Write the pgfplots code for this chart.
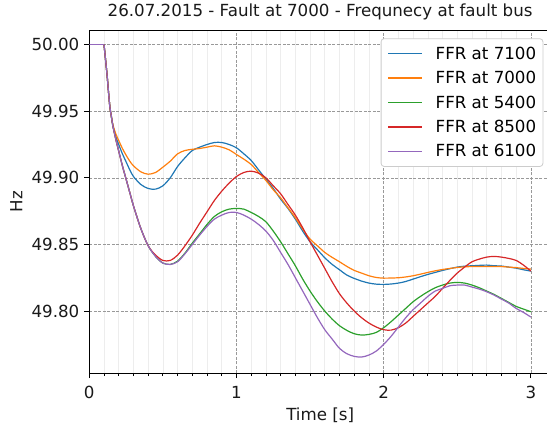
\documentclass[border=0pt]{standalone}
\usepackage{fontspec}
\setmainfont{DejaVu Sans}
\usepackage{pgfplots}
\usepackage{pgfplotstable}
\pgfplotsset{compat=1.18}

\definecolor{cBlue}{HTML}{1F77B4}
\definecolor{cOrange}{HTML}{FF7F0E}
\definecolor{cGreen}{HTML}{2CA02C}
\definecolor{cRed}{HTML}{D62728}
\definecolor{cPurple}{HTML}{9467BD}
\newcommand\mpl{\fontsize{16.67bp}{20bp}\selectfont}

% frequency at the fault bus [Hz] for each FFR location
\pgfplotstableread{
t     f7100   f7000   f5400   f8500   f6100
0.00  50.000  50.000  50.000  50.000  50.000
0.10  50.000  50.000  50.000  50.000  50.000
0.12  49.978  49.978  49.978  49.978  49.978
0.13  49.965  49.965  49.965  49.965  49.965
0.14  49.953  49.953  49.953  49.953  49.953
0.15  49.946  49.946  49.946  49.946  49.946
0.16  49.939  49.940  49.939  49.939  49.939
0.18  49.931  49.933  49.929  49.929  49.929
0.20  49.925  49.928  49.920  49.920  49.920
0.225 49.918  49.922  49.909  49.909  49.909
0.25  49.912  49.917  49.899  49.899  49.899
0.275 49.906  49.9125 49.889  49.889  49.889
0.30  49.901  49.909  49.879  49.879  49.879
0.35  49.895  49.9045 49.862  49.862  49.862
0.40  49.892  49.9027 49.849  49.849  49.849
0.45  49.8915 49.904  49.841  49.842  49.841
0.50  49.894  49.908  49.836  49.838  49.836
0.55  49.900  49.9125 49.835  49.838  49.835
0.60  49.9085 49.918  49.8375 49.842  49.837
0.65  49.915  49.9205 49.8435 49.849  49.843
0.70  49.9205 49.9214 49.851  49.857  49.850
0.75  49.923  49.922  49.858  49.866  49.857
0.80  49.925  49.923  49.865  49.8745 49.8635
0.85  49.9265 49.924  49.871  49.883  49.869
0.90  49.9265 49.923  49.8745 49.890  49.872
0.95  49.925  49.921  49.8765 49.896  49.874
1.00  49.9225 49.9175 49.877  49.901  49.874
1.05  49.918  49.914  49.8765 49.904  49.872
1.10  49.913  49.910  49.874  49.905  49.869
1.15  49.906  49.904  49.871  49.9035 49.865
1.20  49.899  49.898  49.867  49.900  49.860
1.25  49.892  49.891  49.860  49.894  49.853
1.30  49.884  49.885  49.852  49.888  49.844
1.35  49.877  49.8775 49.843  49.880  49.835
1.40  49.869  49.870  49.834  49.872  49.825
1.45  49.860  49.8615 49.824  49.8625 49.815
1.50  49.852  49.854  49.815  49.852  49.805
1.55  49.846  49.849  49.807  49.842  49.795
1.60  49.840  49.844  49.800  49.832  49.786
1.65  49.835  49.8403 49.794  49.822  49.779
1.70  49.831  49.837  49.789  49.813  49.772
1.75  49.827  49.8335 49.7855 49.806  49.768
1.80  49.8245 49.8305 49.783  49.800  49.766
1.85  49.8225 49.8285 49.782  49.795  49.7655
1.90  49.821  49.8265 49.7825 49.791  49.767
1.95  49.8202 49.8252 49.784  49.788  49.770
2.00  49.820  49.8247 49.7875 49.786  49.775
2.05  49.8203 49.8248 49.792  49.7857 49.781
2.10  49.821  49.825  49.797  49.7875 49.788
2.15  49.8222 49.8256 49.802  49.791  49.795
2.20  49.824  49.8265 49.807  49.796  49.801
2.25  49.8258 49.8277 49.811  49.801  49.806
2.30  49.8275 49.829  49.8145 49.806  49.811
2.35  49.829  49.8302 49.8175 49.811  49.815
2.40  49.8305 49.8312 49.8195 49.817  49.817
2.45  49.8318 49.832  49.821  49.823  49.819
2.50  49.833  49.8327 49.8215 49.8285 49.8195
2.55  49.8337 49.8332 49.821  49.833  49.8195
2.60  49.834  49.8334 49.8195 49.837  49.818
2.65  49.8343 49.8335 49.8175 49.839  49.8165
2.70  49.8345 49.8335 49.815  49.8405 49.8145
2.75  49.834  49.8335 49.8125 49.841  49.812
2.80  49.8338 49.8334 49.8095 49.8405 49.809
2.85  49.833  49.833  49.8065 49.8395 49.806
2.90  49.8322 49.8326 49.8035 49.838  49.802
2.95  49.831  49.832  49.8015 49.8345 49.799
3.00  49.830  49.8315 49.7995 49.830  49.7955
}\freqdata

\begin{document}
\begin{tikzpicture}
\useasboundingbox (0,0) rectangle (547bp,427bp);
\begin{axis}[
  at={(89.3bp,53.7bp)}, anchor=south west,
  scale only axis, width=461.7bp, height=343bp,
  xmin=0, xmax=3.137, ymin=49.7533, ymax=50.0107,
  xtick={0,1,2,3}, ytick={49.80,49.85,49.90,49.95,50.00},
  minor x tick num=9,
  xtick pos=lower, ytick pos=left,
  tick align=outside,
  major tick length=4.9bp, minor tick length=2.8bp,
  every tick/.style={black, line width=1.1bp},
  every minor tick/.style={black, line width=0.8bp},
  axis line style={black, line width=1.1bp},
  grid=major, xminorgrids=true,
  major grid style={black!40, line width=0.6bp, dash pattern=on 3bp off 1.5bp},
  minor grid style={black!7, line width=0.6bp},
  /pgf/number format/assume math mode=true,
  yticklabel style={/pgf/number format/fixed, /pgf/number format/fixed zerofill, /pgf/number format/precision=2, inner xsep=4.9bp},
  ticklabel style={font=\mpl, text=black!90},
  xticklabel style={inner ysep=8bp},
  title={26.07.2015 - Fault at 7000 - Frequnecy at fault bus},
  title style={at={(axis description cs:0.5,1.0242)}, anchor=base, inner sep=0pt, font=\mpl, text=black!90},
  xlabel={Time [s]},
  xlabel style={at={(axis description cs:0.5,-0.1012)}, anchor=north, inner sep=0pt, font=\mpl, text=black!90},
  ylabel={Hz},
  ylabel style={at={(axis description cs:-0.1447,0.5)}, anchor=base, inner sep=0pt, font=\mpl, text=black!90},
  legend cell align=left,
  legend image code/.code={\draw[#1, line width=1.3bp] (0bp,0bp) -- (33.3bp,0bp); \path (0bp,-6bp) (46.6bp,6bp);},
  legend style={at={(axis description cs:1,1)}, xshift=-7.7bp, yshift=-8bp, anchor=north east,
    draw=black!20, line width=0.8bp, rounded corners=3bp, fill=white,
    inner xsep=6.7bp, inner ysep=8bp, row sep=10.6bp, font=\mpl,
    nodes={inner sep=0pt}},
  every axis plot/.append style={line width=1.2bp},
]
% smooth traces from the fault instant onwards
\addplot[cBlue, smooth]   table[x=t, y=f7100, restrict x to domain=0.1:3] {\freqdata};
\addlegendentry{FFR at 7100}
\addplot[cOrange, smooth] table[x=t, y=f7000, restrict x to domain=0.1:3] {\freqdata};
\addlegendentry{FFR at 7000}
\addplot[cGreen, smooth]  table[x=t, y=f5400, restrict x to domain=0.1:3] {\freqdata};
\addlegendentry{FFR at 5400}
\addplot[cRed, smooth]    table[x=t, y=f8500, restrict x to domain=0.1:3] {\freqdata};
\addlegendentry{FFR at 8500}
\addplot[cPurple, smooth] table[x=t, y=f6100, restrict x to domain=0.1:3] {\freqdata};
\addlegendentry{FFR at 6100}
% pre-fault steady state, identical for all cases
\addplot[cPurple, forget plot] table[x=t, y=f6100, restrict x to domain=0:0.1] {\freqdata};
\end{axis}
\end{tikzpicture}
\end{document}
